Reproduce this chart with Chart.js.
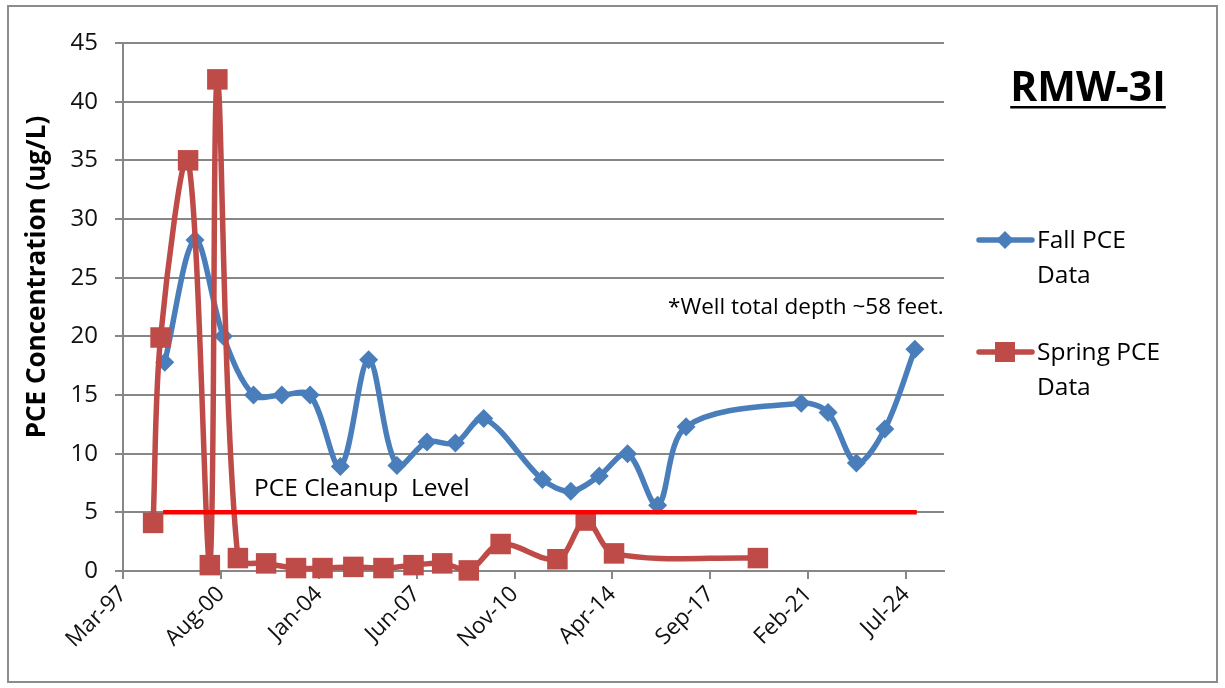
<!DOCTYPE html>
<html>
<head>
<meta charset="utf-8">
<title>RMW-3I</title>
<script src="https://cdn.jsdelivr.net/npm/chart.js@4.4.1/dist/chart.umd.min.js"></script>
<style>
  html, body { margin: 0; padding: 0; background: #fff; }
  #wrap { width: 1225px; height: 688px; position: relative; }
</style>
</head>
<body>
<div id="wrap"><canvas id="chart" width="1225" height="688"></canvas></div>
<script>
// Fall samples (blue diamonds)
const fallDates = ['1998-08-15', '1999-09-05', '2000-09-01', '2001-09-20', '2002-09-16', '2003-09-12',
  '2004-10-01', '2005-09-27', '2006-09-23', '2007-10-11', '2008-10-07', '2009-10-04', '2011-10-22',
  '2012-10-18', '2013-10-15', '2014-10-11', '2015-10-30', '2016-10-26', '2020-11-03', '2021-10-11',
  '2022-10-07', '2023-10-04', '2024-10-22'];
const fallValues = [17.8, 28.2, 20.0, 15.0, 15.0, 15.0, 8.9, 18.0, 9.0, 11.0, 10.9, 13.0, 7.8,
  6.8, 8.1, 10.0, 5.6, 12.3, 14.3, 13.5, 9.2, 12.1, 18.9];

// Spring samples (red squares)
const springDates = ['1998-03-20', '1998-06-23', '1999-06-09', '2000-03-12', '2000-06-16', '2001-03-05',
  '2002-02-28', '2003-03-16', '2004-02-17', '2005-03-16', '2006-04-04', '2007-04-22', '2008-04-22',
  '2009-03-27', '2010-05-07', '2012-04-30', '2013-04-26', '2014-04-22', '2019-04-30'];
const springValues = [4.1, 19.9, 35.0, 0.5, 41.9, 1.1, 0.65, 0.25, 0.25, 0.35, 0.25, 0.5, 0.65,
  0.05, 2.3, 1.0, 4.3, 1.5, 1.1];

// cleanup level line
const cleanupDates = ['1998-07-25', '2024-11-15'];
const cleanupValues = [5, 5];

// x axis
const tickDates = ['1997-03-01', '2000-08-01', '2004-01-01', '2007-06-01', '2010-11-01',
  '2014-04-01', '2017-09-01', '2021-02-01', '2024-07-01'];
const tickLabels = ['Mar-97', 'Aug-00', 'Jan-04', 'Jun-07', 'Nov-10', 'Apr-14', 'Sep-17', 'Feb-21', 'Jul-24'];
const xMin = '1997-03-01';
const xMax = '2025-10-28';

const FONT = '"Open Sans", "Noto Sans", sans-serif';
const BLUE = '#4A7EBB';
const RED = '#BE4B48';
const GRID = '#878787';

const toXY = (dates, values) => dates.map((d, i) => ({ x: Date.parse(d), y: values[i] }));

function diamond(ctx, x, y, r) {
  ctx.beginPath();
  ctx.moveTo(x, y - r); ctx.lineTo(x + r, y); ctx.lineTo(x, y + r); ctx.lineTo(x - r, y);
  ctx.closePath(); ctx.fill();
}

// frame, titles, notes and legend
const decor = {
  id: 'decor',
  afterDraw(chart) {
    const ctx = chart.ctx;
    ctx.save();

    ctx.strokeStyle = '#8c8c8c';
    ctx.lineWidth = 2;
    ctx.strokeRect(8, 6, 1209, 676);

    ctx.fillStyle = '#000';
    // y axis title
    ctx.save();
    ctx.translate(38, 277);
    ctx.rotate(-Math.PI / 2);
    ctx.font = 'bold 26px ' + FONT;
    ctx.textAlign = 'center';
    ctx.textBaseline = 'middle';
    ctx.fillText('PCE Concentration (ug/L)', 0, 0);
    ctx.restore();

    // well name
    ctx.font = 'bold 41px ' + FONT;
    ctx.textAlign = 'center';
    ctx.textBaseline = 'alphabetic';
    ctx.fillText('RMW-3I', 1088, 101);
    const tw = ctx.measureText('RMW-3I').width;
    ctx.fillRect(1088 - tw / 2, 106, tw, 2.5);

    // notes
    ctx.textAlign = 'left';
    ctx.font = '22.5px ' + FONT;
    ctx.fillText('*Well total depth ~58 feet.', 668, 314);
    ctx.font = '24.5px ' + FONT;
    ctx.fillText('PCE Cleanup  Level', 254, 496);

    // legend
    const items = [
      { color: BLUE, y: 240, lines: ['Fall PCE', 'Data'], mark: 'diamond' },
      { color: RED, y: 352, lines: ['Spring PCE', 'Data'], mark: 'square' }
    ];
    items.forEach(it => {
      ctx.strokeStyle = it.color;
      ctx.fillStyle = it.color;
      ctx.lineWidth = 5.5;
      ctx.lineCap = 'round';
      ctx.beginPath();
      ctx.moveTo(979, it.y); ctx.lineTo(1032, it.y);
      ctx.stroke();
      if (it.mark === 'diamond') diamond(ctx, 1005, it.y, 9);
      else ctx.fillRect(995, it.y - 10, 20, 20);
      ctx.fillStyle = '#000';
      ctx.font = '24.5px ' + FONT;
      ctx.textBaseline = 'middle';
      it.lines.forEach((t, i) => ctx.fillText(t, 1037, it.y + 1 + i * 35));
    });

    ctx.restore();
  }
};

new Chart(document.getElementById('chart'), {
  type: 'line',
  data: {
    datasets: [
      {
        label: 'PCE Cleanup Level',
        data: toXY(cleanupDates, cleanupValues),
        borderColor: '#FF0000',
        borderWidth: 4.5,
        pointRadius: 0,
        tension: 0,
        order: 1
      },
      {
        label: 'Spring PCE Data',
        data: toXY(springDates, springValues),
        borderColor: RED,
        backgroundColor: RED,
        borderWidth: 5.5,
        pointStyle: 'rect',
        pointRadius: 14.5,
        pointBorderWidth: 0,
        tension: 0.33,
        clip: false,
        order: 2
      },
      {
        label: 'Fall PCE Data',
        data: toXY(fallDates, fallValues),
        borderColor: BLUE,
        backgroundColor: BLUE,
        borderWidth: 5.5,
        pointStyle: 'rectRot',
        pointRadius: 9.5,
        pointBorderWidth: 0,
        tension: 0.33,
        clip: false,
        order: 3
      }
    ]
  },
  options: {
    responsive: false,
    animation: false,
    events: [],
    layout: { padding: { top: 43, right: 281, left: 0, bottom: 0 } },
    plugins: { legend: { display: false }, tooltip: { enabled: false } },
    scales: {
      x: {
        type: 'linear',
        min: Date.parse(xMin),
        max: Date.parse(xMax),
        afterBuildTicks: s => { s.ticks = tickDates.map(d => ({ value: Date.parse(d) })); },
        afterFit: s => { s.height = 117; },
        grid: { drawOnChartArea: false, drawTicks: true, tickLength: 8, color: GRID, lineWidth: 2 },
        border: { display: true, color: GRID, width: 2 },
        ticks: {
          autoSkip: false,
          minRotation: 45,
          maxRotation: 45,
          padding: 2,
          color: '#111',
          font: { family: FONT, size: 22.5 },
          callback: (v, i) => tickLabels[i]
        }
      },
      y: {
        min: 0,
        max: 45,
        afterFit: s => { s.width = 123; },
        grid: { color: GRID, lineWidth: 2, tickLength: 8 },
        border: { display: true, color: GRID, width: 2 },
        ticks: {
          stepSize: 5,
          padding: 17,
          color: '#111',
          font: { family: FONT, size: 24 }
        }
      }
    }
  },
  plugins: [decor]
});
</script>
</body>
</html>
